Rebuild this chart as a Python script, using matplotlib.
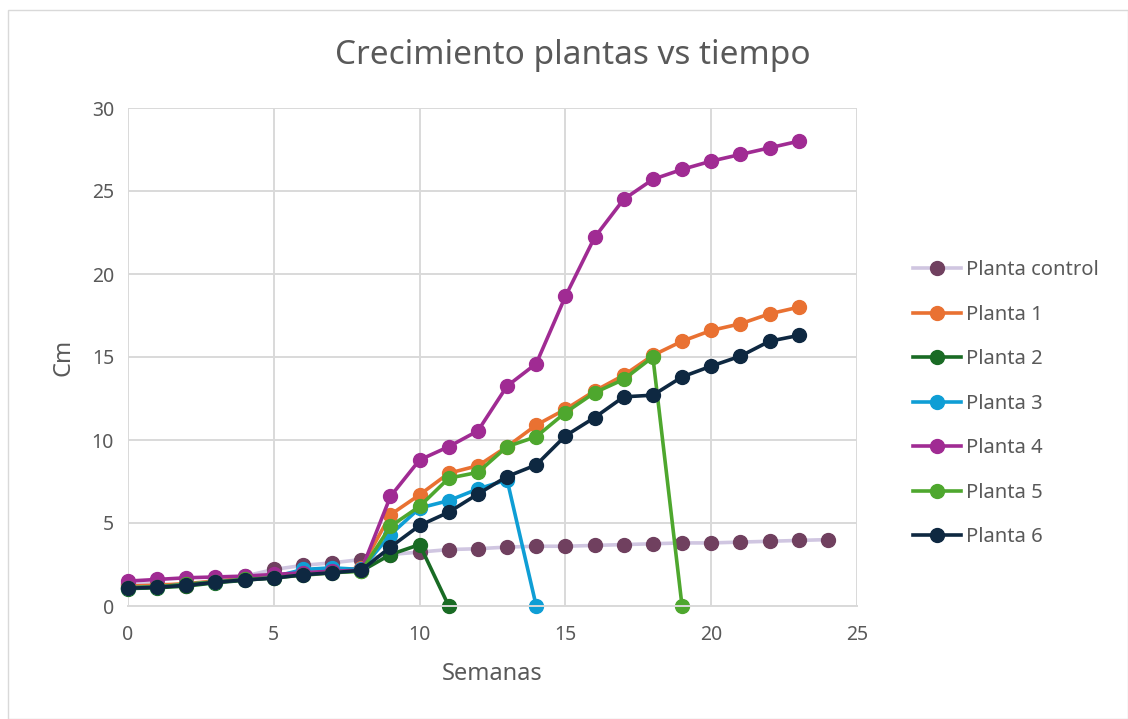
import matplotlib.pyplot as plt
from matplotlib.patches import Rectangle

plt.rcParams['font.family'] = ['Noto Sans', 'DejaVu Sans']

semanas_control = list(range(0, 25))
semanas = list(range(0, 24))

control = [1.3, 1.35, 1.2, 1.6, 1.8, 2.2, 2.45, 2.6, 2.8, 3.1, 3.25, 3.4, 3.45, 3.55,
           3.6, 3.6, 3.65, 3.7, 3.75, 3.8, 3.8, 3.85, 3.9, 3.95, 4.0]
planta1 = [1.2, 1.25, 1.35, 1.5, 1.65, 1.8, 2.0, 2.1, 2.3, 5.5, 6.7, 8.0, 8.45, 9.6,
           10.9, 11.85, 12.95, 13.9, 15.1, 15.95, 16.6, 17.0, 17.6, 18.0]
planta2 = [1.05, 1.1, 1.2, 1.4, 1.55, 1.7, 1.9, 2.05, 2.1, 3.1, 3.7, 0.0]
planta3 = [1.1, 1.15, 1.3, 1.45, 1.6, 1.75, 2.2, 2.3, 2.2, 4.3, 5.9, 6.35, 7.05, 7.6, 0.0]
planta4 = [1.5, 1.6, 1.7, 1.75, 1.8, 1.9, 2.0, 2.1, 2.15, 6.6, 8.8, 9.6, 10.55, 13.25,
           14.6, 18.65, 22.2, 24.5, 25.7, 26.3, 26.8, 27.2, 27.6, 28.0]
planta5 = [1.1, 1.15, 1.3, 1.45, 1.6, 1.7, 1.85, 2.0, 2.1, 4.8, 6.0, 7.7, 8.05, 9.6,
           10.2, 11.65, 12.85, 13.65, 15.0, 0.0]
planta6 = [1.07, 1.13, 1.25, 1.43, 1.57, 1.68, 1.88, 2.0, 2.15, 3.55, 4.85, 5.65, 6.75,
           7.8, 8.5, 10.25, 11.35, 12.6, 12.7, 13.8, 14.45, 15.05, 15.95, 16.3]

series = [
    ('Planta control', control, '#D0C6E1', '#70405F'),
    ('Planta 1', planta1, '#E97132', '#E97132'),
    ('Planta 2', planta2, '#196B24', '#196B24'),
    ('Planta 3', planta3, '#0F9ED5', '#0F9ED5'),
    ('Planta 4', planta4, '#A02B93', '#A02B93'),
    ('Planta 5', planta5, '#4EA72E', '#4EA72E'),
    ('Planta 6', planta6, '#0E2841', '#0E2841'),
]

txt = '#595959'
grid = '#D9D9D9'

fig = plt.figure(figsize=(11.28, 7.19), dpi=100)
ax = fig.add_axes([128 / 1128, (719 - 606) / 719, (857 - 128) / 1128, (606 - 108) / 719])

for name, vals, lc, mc in series:
    xs = semanas_control[:len(vals)] if name == 'Planta control' else semanas[:len(vals)]
    ax.plot(xs, vals, color=lc, lw=2.6, marker='o', markersize=10,
            markerfacecolor=mc, markeredgecolor=mc, label=name, clip_on=False)

ax.set_xlim(0, 25)
ax.set_ylim(0, 30)
ax.set_xticks(range(0, 26, 5))
ax.set_yticks(range(0, 31, 5))
ax.grid(True, color=grid, lw=1.4)
ax.set_axisbelow(True)
for s in ['top', 'right', 'left']:
    ax.spines[s].set_visible(False)
ax.spines['bottom'].set_color(grid)
ax.spines['bottom'].set_linewidth(1.4)
ax.tick_params(length=0, labelsize=14, colors=txt)
ax.tick_params(axis='x', pad=14)
ax.tick_params(axis='y', pad=10)

ax.set_xlabel('Semanas', fontsize=17, color=txt, labelpad=12)
ax.set_ylabel('Cm', fontsize=17, color=txt, labelpad=12)
fig.text(573 / 1128, 1 - 55 / 719, 'Crecimiento plantas vs tiempo', ha='center', va='center',
         fontsize=24, color=txt)

leg = fig.legend(loc='upper left', bbox_to_anchor=(905 / 1128, 1 - 252 / 719), frameon=False,
                 fontsize=14.5, labelcolor=txt, handlelength=2.4, handletextpad=0.25,
                 labelspacing=1.22, borderaxespad=0)

fig.patches.append(Rectangle((8 / 1128, 0), 1 - 8 / 1128, 1 - 10 / 719, transform=fig.transFigure,
                             fill=False, edgecolor='#D9D9D9', lw=1))

fig.savefig('out.png', dpi=100, facecolor='white')
